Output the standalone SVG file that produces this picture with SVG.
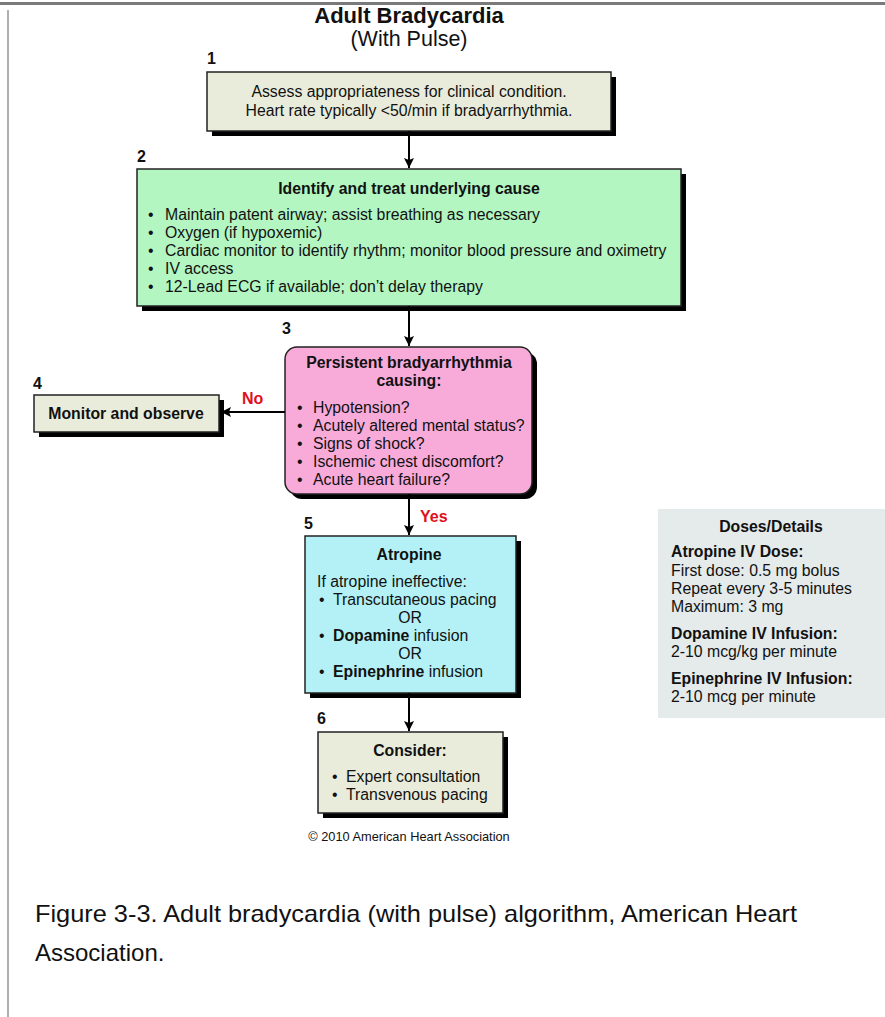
<svg xmlns="http://www.w3.org/2000/svg" width="885" height="1017" viewBox="0 0 885 1017">
<defs>
<marker id="ah" viewBox="0 0 10 10" refX="10" refY="5" markerWidth="10" markerHeight="10" markerUnits="userSpaceOnUse" orient="auto">
<path d="M0,0 L10,5 L0,10 L2,5 z" fill="#000"/>
</marker>
<style>
text{font-family:"Liberation Sans",Arial,sans-serif;fill:#111}
.b{font-weight:bold}
.m{text-anchor:middle}
.t{font-size:15.8px}
.n{font-size:16px;font-weight:bold}
.red{fill:#e0101a;font-weight:bold;font-size:16px}
.box{stroke:#222;stroke-width:1.5}
.sh{fill:#000}
.beige{fill:#e9ecdb}
.green{fill:#b3f6c1}
.pink{fill:#f8abd9}
.cyan{fill:#b4f1f6}
.conn{stroke:#000;stroke-width:2;fill:none}
</style>
</defs>
<rect width="885" height="1017" fill="#fff"/>
<rect x="0" y="2" width="885" height="3" fill="#7a7a7a"/>
<rect x="7" y="10" width="2" height="1007" fill="#b0b0b0"/>

<g id="title">
<text x="409" y="23" class="b m" font-size="22">Adult Bradycardia</text>
<text x="409" y="46" class="m" font-size="21.5">(With Pulse)</text>
</g>

<g id="node1">
<text x="207" y="64" class="n">1</text>
<rect x="212" y="77" width="404" height="59" class="sh"/>
<rect x="207" y="72" width="404" height="59" class="box beige"/>
<text x="409" y="97" class="t m">Assess appropriateness for clinical condition.</text>
<text x="409" y="116" class="t m">Heart rate typically &lt;50/min if bradyarrhythmia.</text>
</g>

<g id="node2">
<text x="137" y="162" class="n">2</text>
<rect x="142" y="174" width="544" height="137" class="sh"/>
<rect x="137" y="169" width="544" height="137" class="box green"/>
<text x="409" y="194" class="t b m">Identify and treat underlying cause</text>
<text x="148" y="220" class="t">•</text><text x="165" y="220" class="t">Maintain patent airway; assist breathing as necessary</text>
<text x="148" y="238" class="t">•</text><text x="165" y="238" class="t">Oxygen (if hypoxemic)</text>
<text x="148" y="256" class="t">•</text><text x="165" y="256" class="t">Cardiac monitor to identify rhythm; monitor blood pressure and oximetry</text>
<text x="148" y="274" class="t">•</text><text x="165" y="274" class="t">IV access</text>
<text x="148" y="292" class="t">•</text><text x="165" y="292" class="t">12-Lead ECG if available; don’t delay therapy</text>
</g>

<g id="node3">
<text x="282" y="334" class="n">3</text>
<rect x="290" y="352" width="247" height="147" rx="12" class="sh"/>
<rect x="285" y="347" width="247" height="147" rx="12" class="box pink"/>
<text x="409" y="368" class="t b m">Persistent bradyarrhythmia</text>
<text x="409" y="386" class="t b m">causing:</text>
<text x="297" y="413" class="t">•</text><text x="313" y="413" class="t">Hypotension?</text>
<text x="297" y="431" class="t">•</text><text x="313" y="431" class="t">Acutely altered mental status?</text>
<text x="297" y="449" class="t">•</text><text x="313" y="449" class="t">Signs of shock?</text>
<text x="297" y="467" class="t">•</text><text x="313" y="467" class="t">Ischemic chest discomfort?</text>
<text x="297" y="485" class="t">•</text><text x="313" y="485" class="t">Acute heart failure?</text>
</g>

<g id="node4">
<text x="33" y="389" class="n">4</text>
<rect x="39" y="400" width="185" height="37" class="sh"/>
<rect x="34" y="395" width="185" height="37" class="box beige"/>
<text x="126" y="419" class="t b m">Monitor and observe</text>
</g>

<g id="node5">
<text x="304" y="529" class="n">5</text>
<rect x="310" y="541" width="211" height="157" class="sh"/>
<rect x="305" y="536" width="211" height="157" class="box cyan"/>
<text x="409" y="560" class="t b m">Atropine</text>
<text x="317" y="587" class="t">If atropine ineffective:</text>
<text x="319" y="605" class="t">•</text><text x="333" y="605" class="t">Transcutaneous pacing</text>
<text x="410" y="623" class="t m">OR</text>
<text x="319" y="641" class="t">•</text><text x="333" y="641" class="t"><tspan class="b">Dopamine</tspan> infusion</text>
<text x="410" y="659" class="t m">OR</text>
<text x="319" y="677" class="t">•</text><text x="333" y="677" class="t"><tspan class="b">Epinephrine</tspan> infusion</text>
</g>

<g id="node6">
<text x="317" y="724" class="n">6</text>
<rect x="323" y="737" width="185" height="81" class="sh"/>
<rect x="318" y="732" width="185" height="81" class="box beige"/>
<text x="410" y="756" class="t b m">Consider:</text>
<text x="332" y="782" class="t">•</text><text x="346" y="782" class="t">Expert consultation</text>
<text x="332" y="800" class="t">•</text><text x="346" y="800" class="t">Transvenous pacing</text>
</g>

<g id="copyright">
<text x="409" y="841" class="m" font-size="12.8">© 2010 American Heart Association</text>
</g>

<g id="doses">
<rect x="658" y="509" width="227" height="209" fill="#e5eaea"/>
<text x="771" y="532" class="t b m">Doses/Details</text>
<text x="671" y="557" class="t b">Atropine IV Dose:</text>
<text x="671" y="576" class="t">First dose: 0.5 mg bolus</text>
<text x="671" y="594" class="t">Repeat every 3-5 minutes</text>
<text x="671" y="612" class="t">Maximum: 3 mg</text>
<text x="671" y="639" class="t b">Dopamine IV Infusion:</text>
<text x="671" y="657" class="t">2-10 mcg/kg per minute</text>
<text x="671" y="684" class="t b">Epinephrine IV Infusion:</text>
<text x="671" y="702" class="t">2-10 mcg per minute</text>
</g>

<g id="connectors">
<line x1="409" y1="131" x2="409" y2="168" class="conn" marker-end="url(#ah)"/>
<line x1="409" y1="306" x2="409" y2="346" class="conn" marker-end="url(#ah)"/>
<line x1="285" y1="412" x2="221" y2="412" class="conn" marker-end="url(#ah)"/>
<line x1="409" y1="494" x2="409" y2="535" class="conn" marker-end="url(#ah)"/>
<line x1="409" y1="693" x2="409" y2="731" class="conn" marker-end="url(#ah)"/>
<text x="242" y="404" class="red">No</text>
<text x="420" y="522" class="red">Yes</text>
</g>

<g id="caption">
<text x="35" y="922" font-size="24" textLength="762" lengthAdjust="spacingAndGlyphs">Figure 3-3. Adult bradycardia (with pulse) algorithm, American Heart</text>
<text x="35" y="961" font-size="24">Association.</text>
</g>
</svg>
